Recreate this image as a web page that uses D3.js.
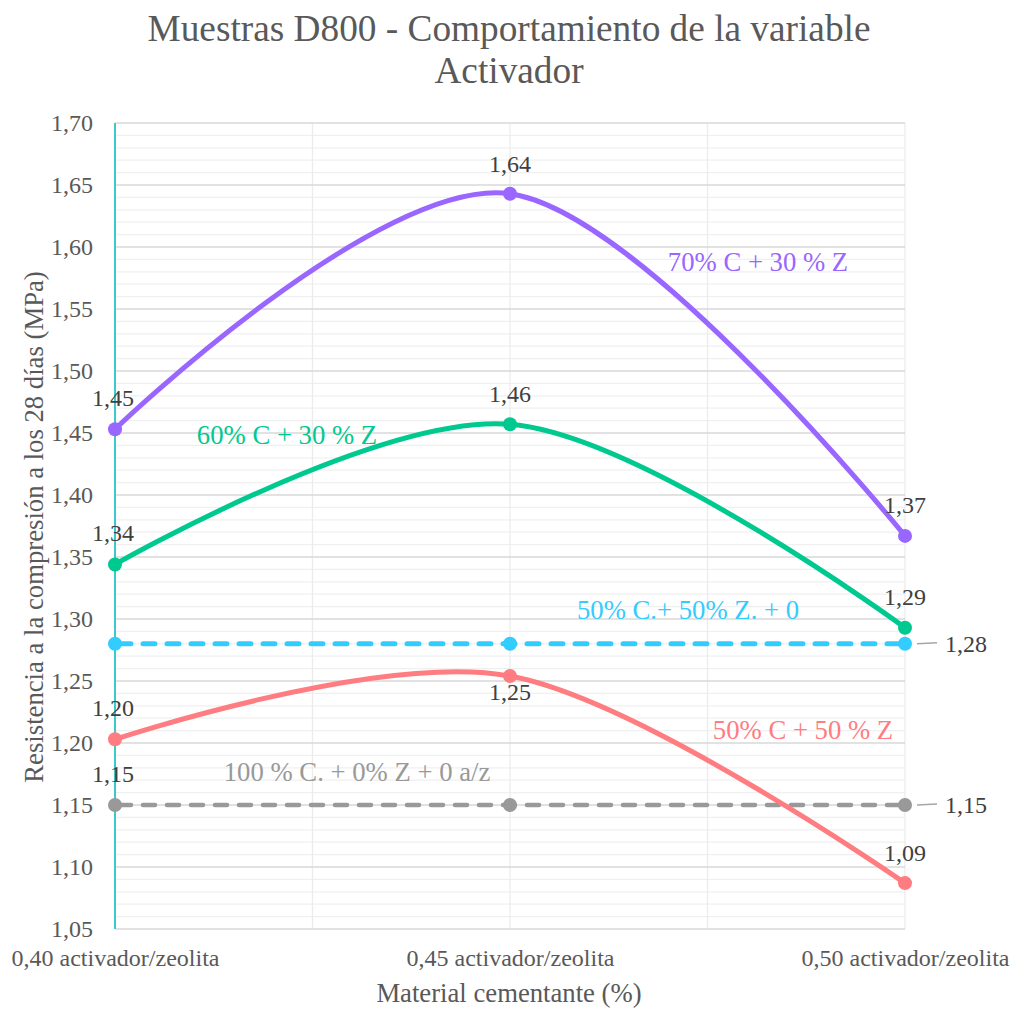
<!DOCTYPE html>
<html><head><meta charset="utf-8">
<script src="https://cdn.jsdelivr.net/npm/d3@7"></script>
<style>body{margin:0;background:#fff}svg{display:block}</style>
</head><body><div id="chart"></div>
<script>
const categories = ["0,40 activador/zeolita", "0,45 activador/zeolita", "0,50 activador/zeolita"];
const s70 = [1.453, 1.643, 1.367];
const s60 = [1.344, 1.457, 1.293];
const s50b = [1.28, 1.28, 1.28];
const s50 = [1.203, 1.254, 1.087];
const s100 = [1.15, 1.15, 1.15];
const seriesNames = ["70% C + 30 % Z", "60% C + 30 % Z", "50% C.+ 50% Z. + 0", "50% C + 50 % Z", "100 % C. + 0% Z + 0 a/z"];
const yTicks = [1.05,1.10,1.15,1.20,1.25,1.30,1.35,1.40,1.45,1.50,1.55,1.60,1.65,1.70];

const FONT = '"Liberation Serif", "Times New Roman", Times, serif';
const W = 1016, H = 1009;
const svg = d3.select("#chart").append("svg").attr("width", W).attr("height", H).style("font-family", FONT);
const x = d3.scaleLinear().domain([0, 2]).range([115, 905]);
const y = d3.scaleLinear().domain([1.05, 1.70]).range([929, 123]);
const fmt = v => d3.format(".2f")(v).replace(".", ",");
const T = (sel) => sel.style("font-family", FONT);

// minor gridlines
const minor = d3.range(105, 171).map(v => v / 100).filter(v => Math.round(v*100) % 5 !== 0);
svg.append("g").selectAll("line").data(minor).join("line")
  .attr("x1", x(0)).attr("x2", x(2)).attr("y1", d => y(d)).attr("y2", d => y(d))
  .attr("stroke", "#f0f0f0").attr("stroke-width", 1.3);
// vertical gridlines
svg.append("g").selectAll("line").data([0.5,1,1.5,2]).join("line")
  .attr("x1", d => x(d)).attr("x2", d => x(d)).attr("y1", y(1.70)).attr("y2", y(1.05))
  .attr("stroke", "#ececec").attr("stroke-width", 1.3);
// major gridlines
svg.append("g").selectAll("line").data(yTicks).join("line")
  .attr("x1", x(0)).attr("x2", x(2)).attr("y1", d => y(d)).attr("y2", d => y(d))
  .attr("stroke", "#d9d9d9").attr("stroke-width", 1.3);
// left axis line
svg.append("line").attr("x1", x(0)).attr("x2", x(0)).attr("y1", y(1.70)).attr("y2", y(1.05))
  .attr("stroke", "#3cc9c9").attr("stroke-width", 2);

// y tick labels via axis
const yAxis = svg.append("g").attr("transform", `translate(${x(0)},0)`)
  .call(d3.axisLeft(y).tickValues(yTicks).tickFormat(fmt).tickSize(0).tickPadding(22));
yAxis.select(".domain").remove();
T(yAxis.selectAll("text").attr("font-size", 24).attr("fill", "#595959"));
yAxis.attr("font-family", null);

// x tick labels
const xAxis = svg.append("g").attr("transform", `translate(0,${y(1.05)})`)
  .call(d3.axisBottom(x).tickValues([0,1,2]).tickFormat(i => categories[i]).tickSize(0).tickPadding(20));
xAxis.select(".domain").remove();
T(xAxis.selectAll("text").attr("font-size", 24).attr("fill", "#595959"));
xAxis.attr("font-family", null);

// titles
const addText = (xv, yv, t, size, fill, anchor="middle") => T(svg.append("text").attr("x", xv).attr("y", yv)
  .attr("text-anchor", anchor).attr("font-size", size).attr("fill", fill).text(t));
addText(509, 41, "Muestras D800 - Comportamiento de la variable", 37.3, "#595959");
addText(509, 83, "Activador", 37.3, "#595959");
addText(509, 1002, "Material cementante (%)", 26.7, "#595959");
T(svg.append("text").attr("transform", "translate(43,527) rotate(-90)").attr("text-anchor", "middle")
  .attr("font-size", 26.7).attr("fill", "#595959").text("Resistencia a la compresión a los 28 días  (MPa)"));

const series = [
  {vals: s70, color: "#9966ff", dash: null, w: 5, smooth: true, name: seriesNames[0], nx: 758, ny: 271},
  {vals: s60, color: "#00c990", dash: null, w: 5, smooth: true, name: seriesNames[1], nx: 287, ny: 444},
  {vals: s50b, color: "#33ccff", dash: "12 12", w: 5, smooth: false, name: seriesNames[2], nx: 688, ny: 619},
  {vals: s50, color: "#ff7c80", dash: null, w: 5, smooth: true, name: seriesNames[3], nx: 803, ny: 739},
  {vals: s100, color: "#999999", dash: "12 12", w: 4.5, smooth: false, name: seriesNames[4], nx: 357, ny: 781}
];
const line = d3.line().x((d,i) => x(i)).y(d => y(d)).curve(d3.curveCardinal.tension(0));
const lineStraight = d3.line().x((d,i) => x(i)).y(d => y(d));

series.slice().reverse().forEach(s => {
  const g = svg.append("g");
  g.append("path").attr("d", (s.smooth ? line : lineStraight)(s.vals)).attr("fill", "none")
    .attr("stroke", s.color).attr("stroke-width", s.w).attr("stroke-linecap", "round")
    .attr("stroke-dasharray", s.dash).attr("stroke-dashoffset", s.dash ? -4 : null);
  g.selectAll("circle").data(s.vals).join("circle").attr("cx", (d,i) => x(i)).attr("cy", d => y(d))
    .attr("r", 7).attr("fill", s.color);
  addText(s.nx, s.ny, s.name, 26.7, s.color);
});

// data labels
const lab = (xv, yv, t) => addText(xv, yv, t, 24, "#404040");
lab(x(0)-2, y(s70[0]) - 23, fmt(s70[0]));
lab(x(1), y(s70[1]) - 22, fmt(s70[1]));
lab(x(2), y(s70[2]) - 23, fmt(s70[2]));
lab(x(0)-2, y(s60[0]) - 23, fmt(s60[0]));
lab(x(1), y(s60[1]) - 22, fmt(s60[1]));
lab(x(2), y(s60[2]) - 23, fmt(s60[2]));
lab(x(0)-2, y(s50[0]) - 23, fmt(s50[0]));
lab(x(1), y(s50[1]) + 24, fmt(s50[1]));
lab(x(2), y(s50[2]) - 22, fmt(s50[2]));
lab(x(0)-2, y(s100[0]) - 23, fmt(s100[0]));
// leader-labelled ends
[s50b[2], s100[2]].forEach(v => {
  svg.append("line").attr("x1", x(2)+12).attr("x2", x(2)+32).attr("y1", y(v)).attr("y2", y(v)-1)
    .attr("stroke", "#a6a6a6").attr("stroke-width", 1.5);
  lab(945, y(v) + 8, fmt(v)).attr("text-anchor", "start");
});
</script></body></html>
